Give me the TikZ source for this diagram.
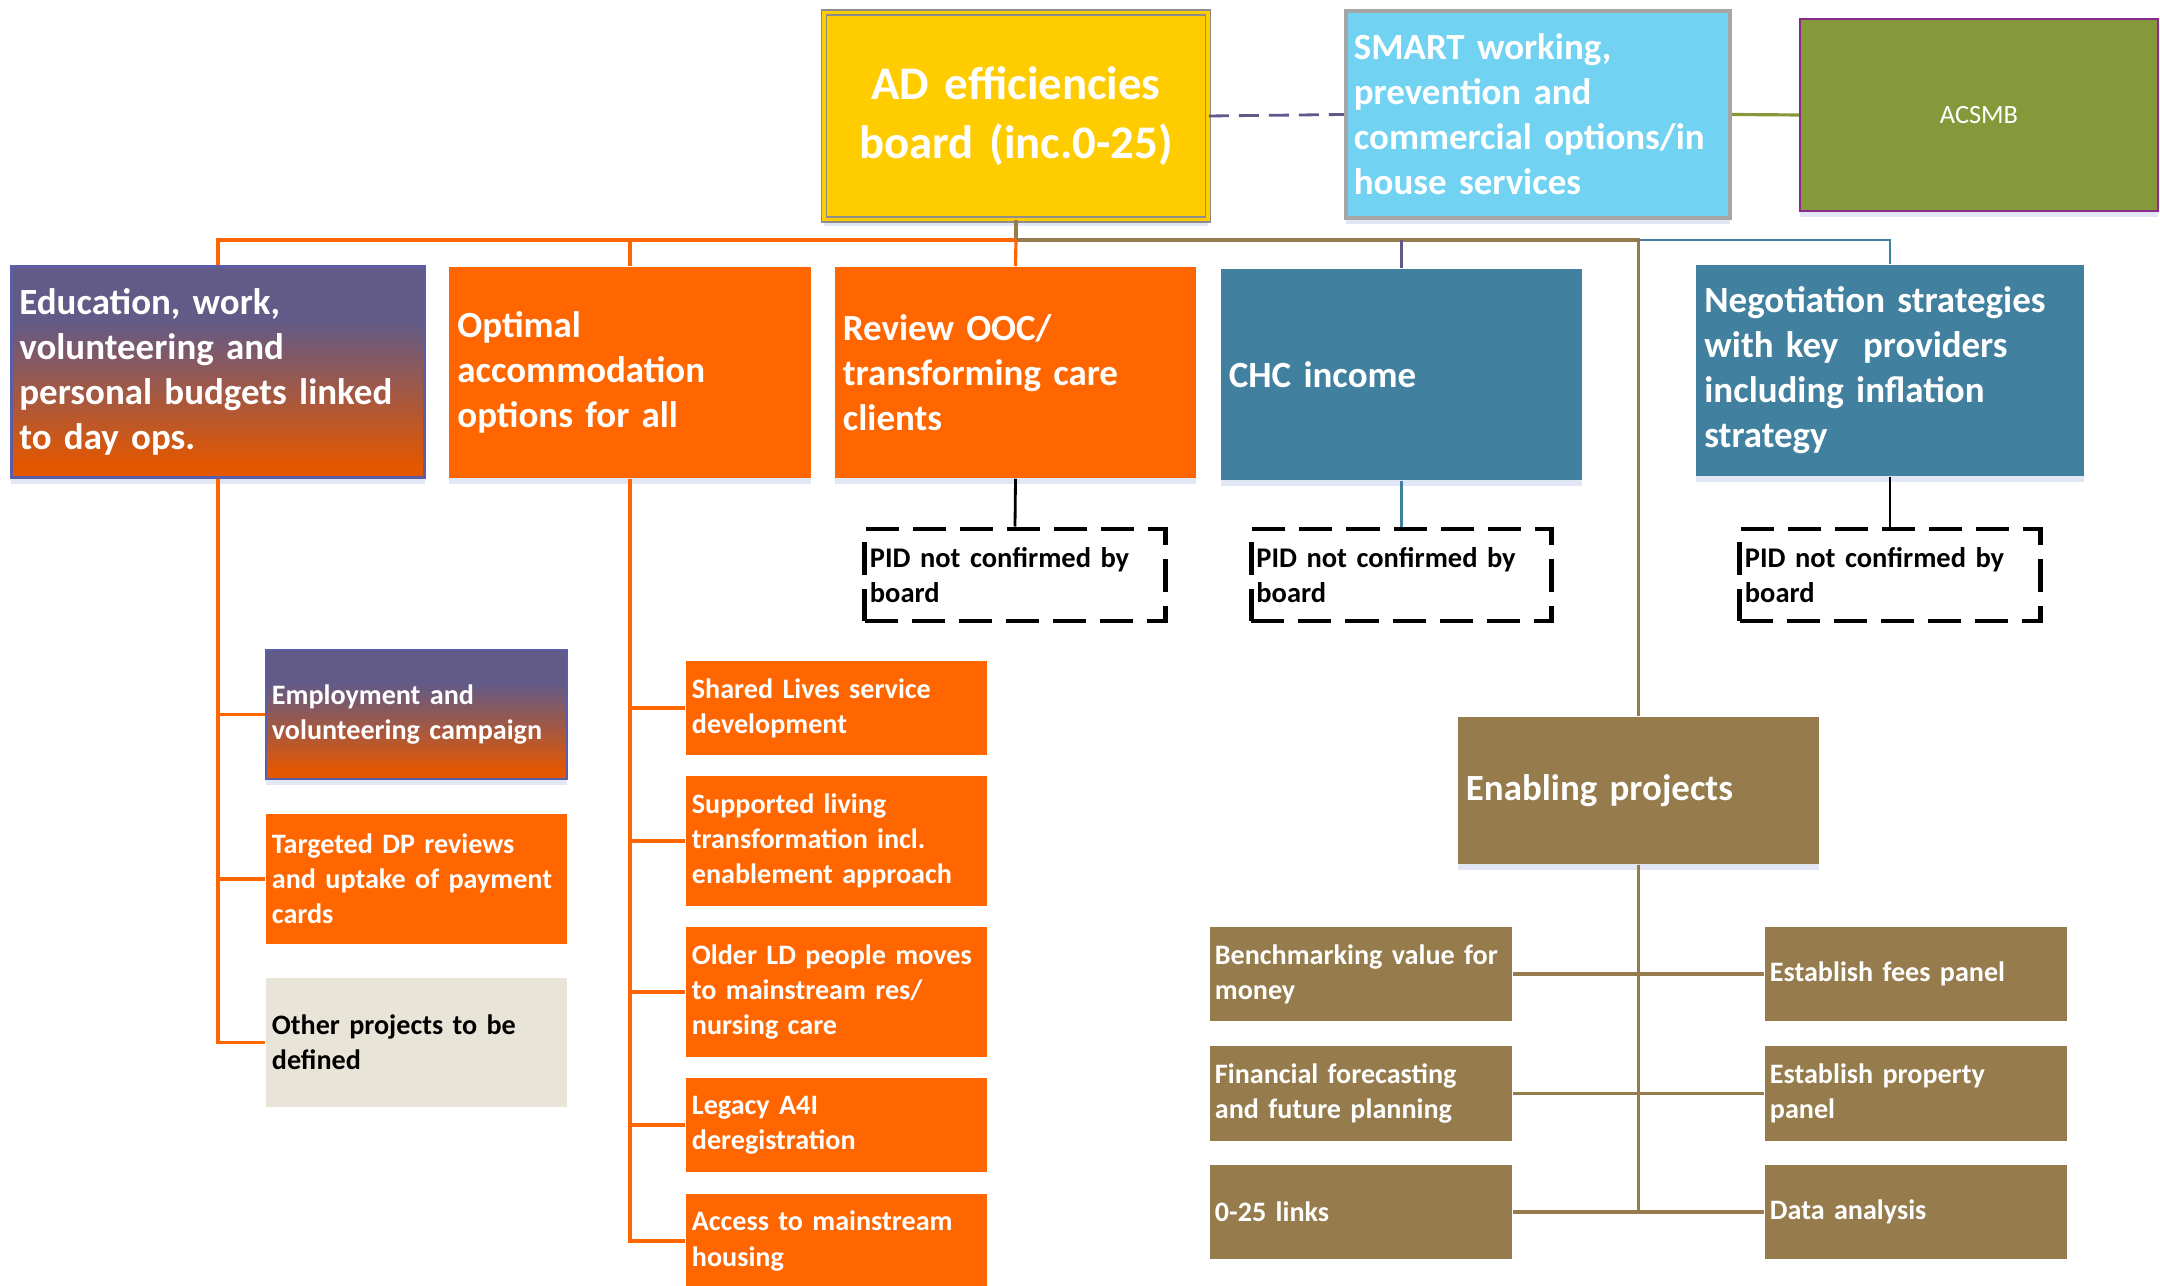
\documentclass[tikz,border=0pt]{standalone}
\usepackage{fontspec}
\setmainfont{Carlito}
\usetikzlibrary{shadows}
\hyphenpenalty=10000
\exhyphenpenalty=10000

\definecolor{adyellow}{HTML}{FFCC00}
\definecolor{adborder}{HTML}{8C8C8C}
\definecolor{smartblue}{HTML}{72D2F2}
\definecolor{smartborder}{HTML}{A6A6A6}
\definecolor{acsmbgreen}{HTML}{86993A}
\definecolor{acsmbborder}{HTML}{8B2A8B}
\definecolor{ccorange}{HTML}{FF6600}
\definecolor{chcteal}{HTML}{42809F}
\definecolor{edpurple}{HTML}{625A87}
\definecolor{edorange}{HTML}{E35700}
\definecolor{edgeblue}{HTML}{5B5EA6}
\definecolor{enbrown}{HTML}{967C4C}
\definecolor{otherbeige}{HTML}{E9E4D8}
\definecolor{linepurple}{HTML}{5F5A87}

\pgfdeclareverticalshading{edshade}{100bp}{color(0bp)=(edorange); color(28bp)=(edorange); color(62bp)=(edpurple); color(100bp)=(edpurple)}

\begin{document}
\begin{tikzpicture}[x=0.01cm, y=-0.01cm,
    box/.style={shape=rectangle, inner xsep=0.08cm, inner ysep=0pt, align=left, text=white,
        font=\bfseries\fontsize{10.5}{12.8}\selectfont},
    glow/.style={drop shadow={shadow xshift=0cm, shadow yshift=-0.06cm, fill=cyan!40!blue!25, opacity=0.45}},
    topbox/.style={box, glow, text width=3.45cm, minimum height=2.11cm, fill=ccorange},
    subbox/.style={box, inner xsep=0.06cm, text width=2.89cm, fill=ccorange,
        font=\bfseries\fontsize{8}{10}\selectfont},
    pidbox/.style={subbox, inner xsep=0.05cm, text width=2.9cm, minimum height=0.92cm, fill=white, text=black,
        draw=black, line width=1.4pt, dash pattern=on 0.33cm off 0.14cm, font=\bfseries\fontsize{8.1}{10}\selectfont},
    enbox/.style={subbox, inner xsep=0.05cm, text width=2.92cm, minimum height=0.94cm, fill=enbrown},
    orline/.style={draw=ccorange, line width=0.9pt},
    brline/.style={draw=enbrown, line width=0.9pt},
]
\useasboundingbox (0,0) rectangle (2160,1286);

% top row
\node[box, glow, align=center, text width=3.68cm, minimum height=2.07cm, fill=adyellow,
    draw=adborder, line width=0.4pt, double=adyellow, double distance=1pt,
    font=\bfseries\fontsize{13.3}{16.8}\selectfont] (ad) at (1016,116) {AD efficiencies\\board (inc.0-25)};
\node[box, glow, text width=3.68cm, minimum height=2.07cm, fill=smartblue, draw=smartborder, line width=1.1pt]
    (smart) at (1538,114.5) {SMART working,\\prevention and\\commercial options/in\\house services};
\node[box, glow, align=center, text width=3.42cm, minimum height=1.92cm, fill=acsmbgreen, draw=acsmbborder,
    line width=0.6pt, font=\fontsize{7.5}{9}\selectfont] (acsmb) at (1979,115) {ACSMB};

% second row
\node[topbox, text width=3.97cm, shading=edshade, draw=edgeblue, line width=0.8pt] (educ) at (218,372)
    {Education, work,\\volunteering and\\personal budgets linked\\to day ops.};
\node[topbox] (optimal) at (630,372.5) {Optimal\\accommodation\\options for all};
\node[topbox] (review) at (1015.5,372.5) {Review OOC/\\transforming care\\clients};
\node[topbox, fill=chcteal] (chc) at (1401.5,374.5) {CHC income};
\node[topbox, fill=chcteal, text width=3.71cm] (negot) at (1890,370.5)
    {Negotiation strategies\\with key~~providers\\including inflation\\strategy};

\node[pidbox] (pidone) at (1015,575) {PID not confirmed by\\board};
\node[pidbox] (pidtwo) at (1401.5,575) {PID not confirmed by\\board};
\node[pidbox] (pidthree) at (1890,575) {PID not confirmed by\\board};

% education projects
\node[subbox, glow, minimum height=1.29cm, shading=edshade, draw=edgeblue, line width=0.6pt] (employ)
    at (416.5,714.5) {Employment and\\volunteering campaign};
\node[subbox, minimum height=1.3cm] (dpreview) at (416.5,879) {Targeted DP reviews\\and uptake of payment\\cards};
\node[subbox, minimum height=1.29cm, fill=otherbeige, text=black] (other) at (416.5,1042.5)
    {Other projects to be\\defined};

% accommodation projects
\node[subbox, minimum height=0.94cm] (shared) at (836.5,708) {Shared Lives service\\development};
\node[subbox, minimum height=1.3cm] (supported) at (836.5,841) {Supported living\\transformation incl.\\enablement approach};
\node[subbox, minimum height=1.3cm] (older) at (836.5,992) {Older LD people moves\\to mainstream res/\\nursing care};
\node[subbox, minimum height=0.94cm] (legacy) at (836.5,1125) {Legacy A4I\\deregistration};
\node[subbox, minimum height=0.94cm] (access) at (836.5,1241) {Access to mainstream\\housing};

% enabling projects
\node[box, glow, text width=3.45cm, minimum height=1.47cm, fill=enbrown] (enabling) at (1638.5,790.5)
    {Enabling projects};
\node[enbox] (bench) at (1361,974) {Benchmarking value for\\money};
\node[enbox, minimum height=0.95cm] (forecast) at (1361,1093.5) {Financial forecasting\\and future planning};
\node[enbox] (links) at (1361,1212) {0-25 links};
\node[enbox] (fees) at (1916,974) {Establish fees panel};
\node[enbox, minimum height=0.95cm] (property) at (1916,1093.5) {Establish property\\panel};
\node[enbox] (data) at (1916,1212) {Data analysis};

% connectors
\coordinate (bus) at (1016,240);
\draw[draw=linepurple, line width=0.8pt, dash pattern=on 0.2cm off 0.1cm] (ad.east) -- (smart.west);
\draw[draw=acsmbgreen, line width=0.9pt] (smart.east) -- (acsmb.west);
\draw[brline] (ad.south) -- (bus) -| (enabling.north);
\draw[orline] (educ.north) |- (bus);
\draw[orline] (optimal.north) -- (optimal.north |- bus);
\draw[orline] (review.north) -- (bus);
\draw[draw=linepurple, line width=0.8pt] (chc.north) -- (chc.north |- bus);
\draw[draw=chcteal, line width=0.8pt] (enabling.north |- bus) -| (negot.north);

\draw[black, line width=0.8pt] (review.south) -- (pidone.north);
\draw[chcteal, line width=0.8pt] (chc.south) -- (pidtwo.north);
\draw[black, line width=0.8pt] (negot.south) -- (pidthree.north);

\draw[orline] (educ.south) |- (employ.west);
\draw[orline] (educ.south) |- (dpreview.west);
\draw[orline] (educ.south) |- (other.west);

\draw[orline] (optimal.south) |- (shared.west);
\draw[orline] (optimal.south) |- (supported.west);
\draw[orline] (optimal.south) |- (older.west);
\draw[orline] (optimal.south) |- (legacy.west);
\draw[orline] (optimal.south) |- (access.west);

\draw[brline] (enabling.south) |- (bench.east);
\draw[brline] (enabling.south) |- (forecast.east);
\draw[brline] (enabling.south) |- (links.east);
\draw[brline] (enabling.south) |- (fees.west);
\draw[brline] (enabling.south) |- (property.west);
\draw[brline] (enabling.south) |- (data.west);
\end{tikzpicture}
\end{document}
